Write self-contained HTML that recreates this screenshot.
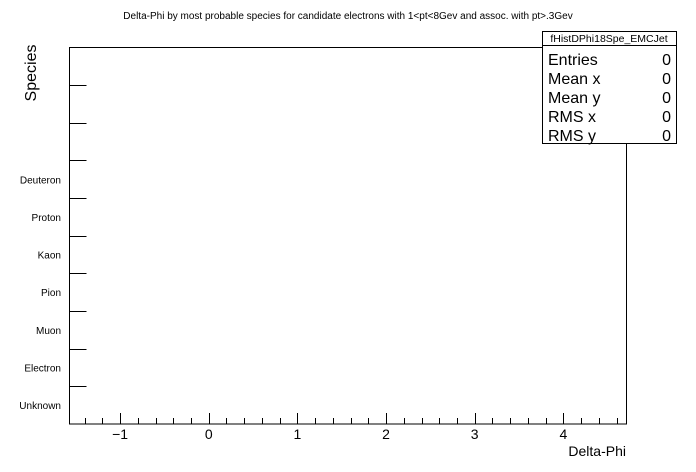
<!DOCTYPE html>
<html><head><meta charset="utf-8"><style>
body{margin:0;background:#fff}
svg{display:block;font-family:"Liberation Sans",sans-serif}
</style></head><body>
<svg id="c" width="696" height="472" viewBox="0 0 696 472">
<rect width="696" height="472" fill="#fff"/>
<text x="348" y="19" font-size="10" text-anchor="middle">Delta-Phi by most probable species for candidate electrons with 1&lt;pt&lt;8Gev and assoc. with pt&gt;.3Gev</text>
<rect x="69.5" y="47.5" width="557" height="376.5" fill="none" stroke="#000"/>
<g id="xt"></g>
<g id="yt"></g>
<text x="626" y="456" font-size="14" text-anchor="end">Delta-Phi</text>
<text transform="translate(36,73) rotate(-90)" font-size="16" text-anchor="middle">Species</text>
<g>
<rect x="542.5" y="31.5" width="134" height="112" fill="#fff" stroke="#000"/>
<line x1="542.5" y1="45.5" x2="676.5" y2="45.5" stroke="#000"/>
<text x="609" y="42" font-size="10.5" text-anchor="middle">fHistDPhi18Spe_EMCJet</text>
<g font-size="16">
<text x="548" y="65">Entries</text><text x="671" y="65" text-anchor="end">0</text>
<text x="548" y="84">Mean x</text><text x="671" y="84" text-anchor="end">0</text>
<text x="548" y="103">Mean y</text><text x="671" y="103" text-anchor="end">0</text>
<text x="548" y="122">RMS x</text><text x="671" y="122" text-anchor="end">0</text>
<text x="548" y="141">RMS y</text><text x="671" y="141" text-anchor="end">0</text>
</g></g>
</svg>
<script>
const xTicks=[-1,0,1,2,3,4];
const xTickLabels=["\u22121","0","1","2","3","4"];
const yCategories=["Unknown","Electron","Muon","Pion","Kaon","Proton","Deuteron","","",""];
const xMin=-Math.PI/2,xMax=3*Math.PI/2;
const L=69.5,R=626.5,T=47.5,B=424;
const sx=v=>L+(v-xMin)/(xMax-xMin)*(R-L);
const bh=(B-T)/yCategories.length;
const ns="http://www.w3.org/2000/svg";
const xt=document.getElementById('xt'),yt=document.getElementById('yt');
function ln(g,x1,y1,x2,y2){const l=document.createElementNS(ns,'line');l.setAttribute('x1',x1);l.setAttribute('y1',y1);l.setAttribute('x2',x2);l.setAttribute('y2',y2);l.setAttribute('stroke','#000');g.appendChild(l);return l;}
for(let v=Math.ceil(xMin*5)/5;v<=xMax;v+=0.2){const x=Math.round(sx(v))+0.5;const major=Math.abs(v-Math.round(v))<1e-6;const l=ln(xt,x,B,x,B-(major?11:6));

}
xTicks.forEach((v,i)=>{const t=document.createElementNS(ns,'text');t.setAttribute('x',sx(v));t.setAttribute('y',439);t.setAttribute('font-size','14');t.setAttribute('text-anchor','middle');t.textContent=xTickLabels[i];


xt.appendChild(t);});
yCategories.forEach((c,i)=>{const yc=B-(i+0.5)*bh;if(i>0){const y=Math.round(B-i*bh)+0.5;const l=ln(yt,L,y,L+17,y);

}
if(c){const t=document.createElementNS(ns,'text');t.setAttribute('x',61);t.setAttribute('y',yc+4);t.setAttribute('font-size','10');t.setAttribute('text-anchor','end');t.textContent=c;


yt.appendChild(t);}});
</script>
</body></html>
